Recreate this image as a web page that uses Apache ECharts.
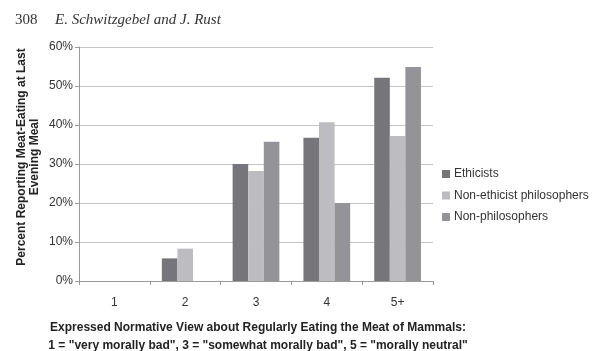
<!DOCTYPE html>
<html>
<head>
<meta charset="utf-8">
<script src="https://cdn.jsdelivr.net/npm/echarts@6/dist/echarts.min.js"></script>
<style>
  html, body { margin: 0; padding: 0; background: #fff; }
  #chart { width: 600px; height: 351px; }
</style>
</head>
<body>
<div id="chart"></div>
<script>
// categories on the x axis
const categories = ["1", "2", "3", "4", "5+"];
// percent reporting meat-eating, per group
const ethicists = [0, 5.8, 30, 36.7, 52.1];
const nonEthicistPhil = [0, 8.3, 28.2, 40.7, 37.2];
const nonPhilosophers = [0, 0, 35.7, 20, 54.9];
const seriesNames = ["Ethicists", "Non-ethicist philosophers", "Non-philosophers"];
const yTicks = [0, 10, 20, 30, 40, 50, 60];

const colors = ["#76767a", "#bdbdc1", "#949498"];
const chart = echarts.init(document.getElementById("chart"), null, { renderer: "canvas" });

function bar(name, data, i) {
    return {
        name: name,
        type: "bar",
        data: data,
        barGap: "0%",
        barCategoryGap: "34%",
        itemStyle: { color: colors[i] },
        silent: true
    };
}

chart.setOption({
    animation: false,
    color: colors,
    grid: { left: 79, right: 167, top: 47, bottom: 70 },
    legend: {
        orient: "vertical",
        left: 437,
        top: 163,
        itemWidth: 8,
        itemHeight: 8,
        itemGap: 9.5,
        icon: "rect",
        textStyle: { fontFamily: "Liberation Sans", fontSize: 12, color: "#333", padding: [0, 0, 0, -1] },
        data: seriesNames
    },
    xAxis: {
        type: "category",
        data: categories,
        axisLine: { lineStyle: { color: "#9a9a9a" } },
        axisTick: { show: true, length: 4, lineStyle: { color: "#9a9a9a" } },
        axisLabel: { fontFamily: "Liberation Sans", fontSize: 12, color: "#333", margin: 16 }
    },
    yAxis: {
        type: "value",
        min: yTicks[0],
        max: yTicks[yTicks.length - 1],
        interval: 10,
        axisLine: { show: true, lineStyle: { color: "#9a9a9a" } },
        axisTick: { show: true, length: 4, lineStyle: { color: "#9a9a9a" } },
        axisLabel: { fontFamily: "Liberation Sans", fontSize: 12, color: "#333", margin: 6, formatter: "{value}%" },
        splitLine: { lineStyle: { color: "#c4c4c4" } }
    },
    series: [
        bar(seriesNames[0], ethicists, 0),
        bar(seriesNames[1], nonEthicistPhil, 1),
        bar(seriesNames[2], nonPhilosophers, 2)
    ],
    graphic: [
        {
            type: "text", left: 15, top: 13,
            style: { text: "308", font: "15px 'Liberation Serif'", fill: "#333" }
        },
        {
            type: "text", left: 55, top: 13,
            style: { text: "E. Schwitzgebel and J. Rust", font: "italic 15px 'Liberation Serif'", fill: "#333" }
        },
        {
            type: "text", x: 22, y: 157, rotation: Math.PI / 2,
            style: {
                text: "Percent Reporting Meat-Eating at Last", font: "bold 12px 'Liberation Sans'",
                fill: "#222", align: "center", verticalAlign: "middle"
            }
        },
        {
            type: "text", x: 35, y: 157, rotation: Math.PI / 2,
            style: {
                text: "Evening Meal", font: "bold 12px 'Liberation Sans'",
                fill: "#222", align: "center", verticalAlign: "middle"
            }
        },
        {
            type: "text", x: 258, y: 328,
            style: {
                text: "Expressed Normative View about Regularly Eating the Meat of Mammals:",
                font: "bold 12px 'Liberation Sans'", fill: "#222", align: "center", verticalAlign: "middle"
            }
        },
        {
            type: "text", x: 258, y: 346,
            style: {
                text: "1 = \"very morally bad\", 3 = \"somewhat morally bad\", 5 = \"morally neutral\"",
                font: "bold 12px 'Liberation Sans'", fill: "#222", align: "center", verticalAlign: "middle"
            }
        }
    ]
});
</script>
</body>
</html>
